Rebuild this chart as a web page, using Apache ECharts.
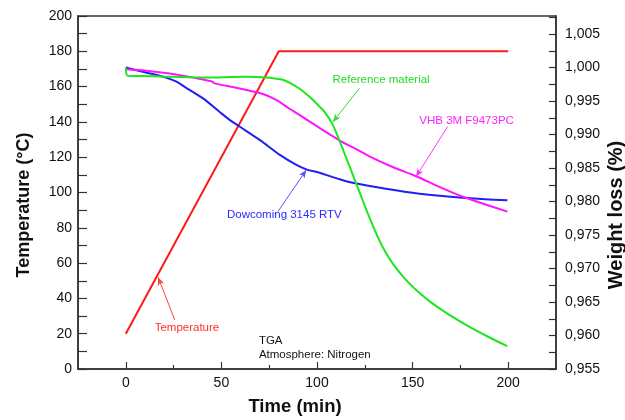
<!DOCTYPE html>
<html>
<head>
<meta charset="utf-8">
<script src="https://cdn.jsdelivr.net/npm/echarts@6/dist/echarts.min.js"></script>
<style>html,body{margin:0;padding:0;background:#fff}#c{width:625px;height:420px}</style>
</head>
<body>
<div id="c"></div>
<script>
// ---- data ----
var timeTicks = [0, 50, 100, 150, 200];
var timeMinorTicks = [25, 75, 125, 175];
var tempTicks = [0, 20, 40, 60, 80, 100, 120, 140, 160, 180, 200];
var tempMinorTicks = [10, 30, 50, 70, 90, 110, 130, 150, 170, 190];
var weightTicks = [0.955, 0.960, 0.965, 0.970, 0.975, 0.980, 0.985, 0.990, 0.995, 1.000, 1.005];
var weightMinorTicks = [0.9575, 0.9625, 0.9675, 0.9725, 0.9775, 0.9825, 0.9875, 0.9925, 0.9975, 1.0025, 1.0075];

var temperature = [[0, 20], [80, 180], [117, 180], [200, 180]];

var dowcoming = [[0, 1.0000], [10, 0.9993], [21, 0.9985], [26.5, 0.9979], [32, 0.9969], [40.4, 0.9954],
  [49, 0.9934], [54.3, 0.9922], [59.5, 0.9912], [70, 0.9892], [80.4, 0.9870], [89, 0.9855],
  [94.4, 0.9848], [101.3, 0.9843], [110, 0.9835], [118.7, 0.9828], [136, 0.9819], [153.5, 0.98117],
  [176, 0.98057], [199.6, 0.98018]];

var vhb = [[0, 0.99975], [12, 0.9995], [23, 0.9991], [35, 0.9985], [45.4, 0.9979], [46, 0.99768],
  [59.5, 0.99688], [71.7, 0.99605], [78.7, 0.99516], [85.6, 0.99385], [90, 0.9931], [95, 0.99215],
  [101.3, 0.9910], [106.5, 0.99005], [112.6, 0.9890], [120, 0.9879], [127.4, 0.98675], [139.6, 0.98516],
  [151.8, 0.98378], [164, 0.98219], [176, 0.98076], [199.6, 0.9785]];

var reference = [[0, 1.0000], [0.8, 0.9988], [3, 0.99875], [14, 0.99872], [40, 0.99852], [63, 0.99862],
  [73.5, 0.99852], [78.7, 0.99832], [82.0, 0.99818], [86.7, 0.99758], [90.9, 0.99684], [96.1, 0.99565],
  [101.3, 0.99417], [104, 0.99335], [108, 0.99160], [112, 0.98890], [116, 0.98600], [120, 0.98306],
  [124, 0.98010], [128, 0.97722], [132, 0.97458], [136, 0.97234], [140, 0.97058], [145, 0.96880],
  [150, 0.96730], [155, 0.96600], [160, 0.96488], [166, 0.96368], [172, 0.96259], [180, 0.96125],
  [190, 0.95974], [199.5, 0.95841]];

// annotations in (time, temperature) coordinates
var labelTexts = ['Reference material', 'VHB 3M F9473PC', 'Dowcoming 3145 RTV', 'Temperature', 'TGA', 'Atmosphere: Nitrogen'];
var labelAnchors = [[108.1, 163.7], [153.5, 140.7], [52.9, 87.3], [15.1, 23.6], [69.6, 15.9], [69.6, 8.3]];
var labelColors = ['#22dd22', '#ff22ff', '#2a2aff', '#ff3030', '#111111', '#111111'];
var arrowFrom = [[122.2, 159.0], [168.3, 137.3], [79.5, 89.1], [25.6, 27.8]];
var arrowTo = [[108.3, 140.0], [151.8, 109.0], [94.4, 112.7], [16.9, 52.0]];
var arrowColors = ['#33dd33', '#ff33ff', '#5555ff', '#ff4040'];

// ---- chart ----
var FONT = 'Liberation Sans, Arial, Helvetica, sans-serif';
var AX = '#333333';
var chart = echarts.init(document.getElementById('c'), null, {renderer: 'canvas'});

function weightFmt(v) { return v.toFixed(3).replace('.', ','); }

var arrowLines = arrowFrom.map(function (f, i) {
  return [
    {coord: f, symbol: 'none'},
    {coord: arrowTo[i], symbol: 'arrow', symbolSize: [5, 8], lineStyle: {color: arrowColors[i], width: 1, type: 'solid'}, itemStyle: {color: arrowColors[i]}}
  ];
});

var option = {
  animation: false,
  backgroundColor: '#ffffff',
  grid: {left: 78, right: 69, top: 16, bottom: 51, show: true, borderColor: AX, borderWidth: 1.5, backgroundColor: 'transparent'},
  xAxis: [
    {type: 'value', min: -25, max: 225, position: 'bottom',
      axisLine: {show: true, onZero: false, lineStyle: {color: AX, width: 1.5}},
      axisTick: {show: true, inside: true, length: 7, customValues: timeTicks, lineStyle: {color: AX, width: 1.2}},
      axisLabel: {customValues: timeTicks, margin: 7, fontSize: 14, color: '#111', fontFamily: FONT},
      splitLine: {show: false}},
    {type: 'value', min: -25, max: 225, position: 'bottom',
      axisLine: {show: false},
      axisTick: {show: true, inside: true, length: 4, customValues: timeMinorTicks, lineStyle: {color: AX, width: 1.2}},
      axisLabel: {show: false}, splitLine: {show: false}}
  ],
  yAxis: [
    {type: 'value', min: 0, max: 200, position: 'left',
      axisLine: {show: true, onZero: false, lineStyle: {color: AX, width: 1.5}},
      axisTick: {show: true, inside: true, length: 9, customValues: tempTicks.concat(tempMinorTicks), lineStyle: {color: AX, width: 1.2}},
      axisLabel: {customValues: tempTicks, margin: 6, fontSize: 14, color: '#111', fontFamily: FONT},
      splitLine: {show: false}},
    {type: 'value', min: 0.955, max: 1.0077, position: 'right',
      axisLine: {show: true, onZero: false, lineStyle: {color: AX, width: 1.5}},
      axisTick: {show: true, inside: true, length: 7, customValues: weightTicks.concat(weightMinorTicks), lineStyle: {color: AX, width: 1.2}},
      axisLabel: {customValues: weightTicks, margin: 9, fontSize: 14, color: '#111', fontFamily: FONT, formatter: weightFmt},
      splitLine: {show: false}}
  ],
  series: [
    {name: 'Temperature', type: 'line', xAxisIndex: 0, yAxisIndex: 0, data: temperature, showSymbol: false,
      lineStyle: {color: '#ff1a1a', width: 2}, itemStyle: {color: '#ff1a1a'}, z: 3,
      markLine: {silent: true, animation: false, symbol: ['none', 'arrow'], label: {show: false},
        lineStyle: {width: 1, type: 'solid'}, data: arrowLines}},
    {name: 'Dowcoming 3145 RTV', type: 'line', xAxisIndex: 0, yAxisIndex: 1, data: dowcoming, showSymbol: false,
      smooth: 0.35, lineStyle: {color: '#2020f0', width: 2}, itemStyle: {color: '#2020f0'}},
    {name: 'VHB 3M F9473PC', type: 'line', xAxisIndex: 0, yAxisIndex: 1, data: vhb, showSymbol: false,
      smooth: 0.35, lineStyle: {color: '#ff14ff', width: 2}, itemStyle: {color: '#ff14ff'}},
    {name: 'Reference material', type: 'line', xAxisIndex: 0, yAxisIndex: 1, data: reference, showSymbol: false,
      smooth: 0.35, lineStyle: {color: '#1ee61e', width: 2}, itemStyle: {color: '#1ee61e'}}
  ]
};
chart.setOption(option);

var graphics = [
  {type: 'text', x: 295, y: 407, style: {text: 'Time (min)', font: 'bold 18.5px ' + FONT, fill: '#111', align: 'center', verticalAlign: 'middle'}},
  {type: 'text', x: 24, y: 205, rotation: Math.PI / 2, style: {text: 'Temperature (°C)', font: 'bold 18px ' + FONT, fill: '#111', align: 'center', verticalAlign: 'middle'}},
  {type: 'text', x: 616, y: 215, rotation: Math.PI / 2, style: {text: 'Weight loss (%)', font: 'bold 20px ' + FONT, fill: '#111', align: 'center', verticalAlign: 'middle'}}
];
labelTexts.forEach(function (t, i) {
  var p = chart.convertToPixel({xAxisIndex: 0, yAxisIndex: 0}, labelAnchors[i]);
  graphics.push({type: 'text', x: p[0], y: p[1], style: {text: t, font: '11.5px ' + FONT, fill: labelColors[i], align: 'left', verticalAlign: 'middle'}});
});
chart.setOption({graphic: graphics});
</script>
</body>
</html>
